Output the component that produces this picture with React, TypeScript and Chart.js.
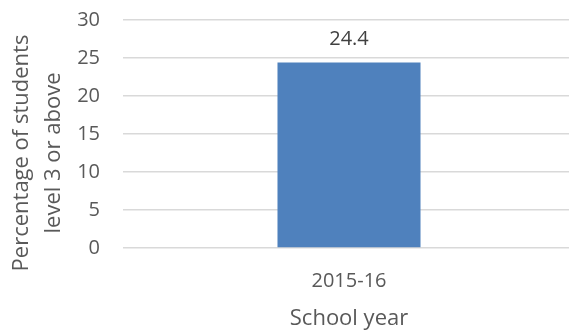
import React, { useEffect, useRef } from "react";
import { Chart, registerables } from "chart.js";

Chart.register(...registerables);

const categories = ["2015-16"];
const values = [24.4];
const yTicks = [0, 5, 10, 15, 20, 25, 30];
const yTitleLines = ["Percentage of students", "level 3 or above"];
const xTitle = "School year";

const FONT = "'Open Sans', 'Noto Sans', sans-serif";
const TEXT = "#595959";

const labelPlugin = {
  id: "barLabels",
  afterDatasetsDraw(chart: any) {
    const ctx = chart.ctx;
    const meta = chart.getDatasetMeta(0);
    ctx.save();
    ctx.font = `20px ${FONT}`;
    ctx.fillStyle = "#404040";
    ctx.textAlign = "center";
    ctx.textBaseline = "alphabetic";
    meta.data.forEach((el: any, i: number) => {
      ctx.fillText(String(values[i]), el.x, el.y - 18);
    });
    ctx.restore();
  },
};

const yTitlePlugin = {
  id: "yTitle",
  afterDraw(chart: any) {
    const ctx = chart.ctx;
    const area = chart.chartArea;
    const cy = (area.top + area.bottom) / 2 + 19;
    ctx.save();
    ctx.font = `22px ${FONT}`;
    ctx.fillStyle = TEXT;
    ctx.textAlign = "center";
    ctx.textBaseline = "alphabetic";
    ctx.translate(0, cy);
    ctx.rotate(-Math.PI / 2);
    ctx.fillText(yTitleLines[0], 0, 28);
    ctx.fillText(yTitleLines[1], 0, 60);
    ctx.restore();
  },
};

export default function App() {
  const ref = useRef<HTMLCanvasElement>(null);
  useEffect(() => {
    document.body.style.margin = "0";
    const chart = new Chart(ref.current!, {
      type: "bar",
      data: {
        labels: categories,
        datasets: [
          {
            data: values,
            backgroundColor: "#4F81BD",
            barPercentage: 0.6329,
            categoryPercentage: 0.5,
          },
        ],
      },
      options: {
        animation: false,
        responsive: false,
        maintainAspectRatio: false,
        layout: { padding: 0 },
        plugins: { legend: { display: false }, tooltip: { enabled: false } },
        scales: {
          x: {
            grid: { display: false },
            border: { display: false },
            ticks: { color: TEXT, font: { family: FONT, size: 20 }, padding: 13 },
            title: {
              display: true,
              text: xTitle,
              color: TEXT,
              font: { family: FONT, size: 22 },
              padding: { top: 0, bottom: 1 },
            },
            afterFit: (scale: any) => {
              scale.height = 85;
              scale.paddingLeft = 0;
              scale.paddingRight = 0;
            },
          },
          y: {
            min: 0,
            max: 30,
            afterBuildTicks: (scale: any) => {
              scale.ticks = yTicks.map((v) => ({ value: v }));
            },
            afterFit: (scale: any) => {
              scale.width = 123;
              scale.paddingTop = 20;
              scale.paddingBottom = 0;
            },
            grid: { color: "#d9d9d9", lineWidth: 1.5, drawTicks: false },
            border: { display: false },
            ticks: { color: TEXT, font: { family: FONT, size: 20 }, padding: 23 },
          },
        },
      },
      plugins: [labelPlugin, yTitlePlugin],
    });
    return () => chart.destroy();
  }, []);
  return (
    <div style={{ width: 569, height: 333, overflow: "hidden" }}>
      <canvas ref={ref} width={575} height={333} />
    </div>
  );
}
